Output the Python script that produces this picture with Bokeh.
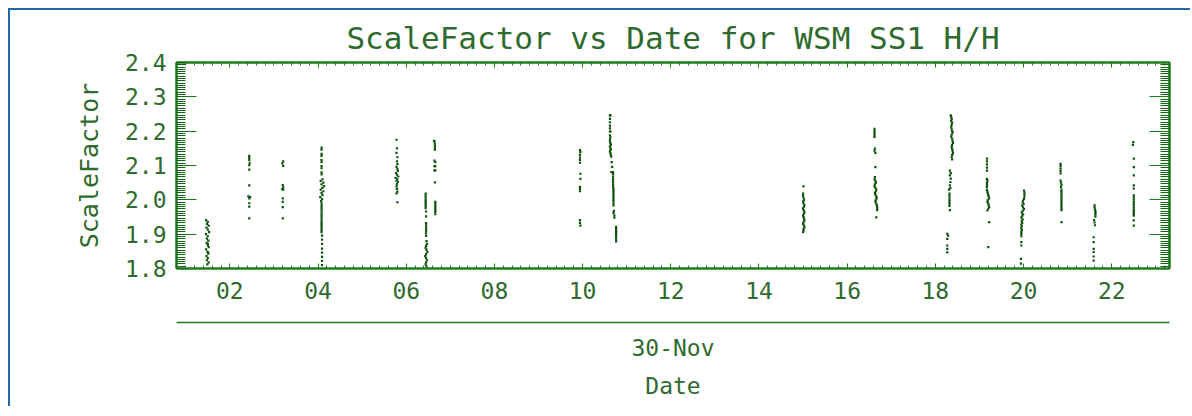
import numpy as np
from bokeh.plotting import figure
from bokeh.models import LinearAxis, FixedTicker, Title, Range1d
from bokeh.embed import file_html
from bokeh.resources import INLINE

# ---------------- data ----------------
title_text = "ScaleFactor vs Date for WSM SS1 H/H"
y_label = "ScaleFactor"
date_label = "30-Nov"
x_label = "Date"

x_ticks = [2, 4, 6, 8, 10, 12, 14, 16, 18, 20, 22]
x_tick_labels = ["02", "04", "06", "08", "10", "12", "14", "16", "18", "20", "22"]
y_ticks = [1.8, 1.9, 2.0, 2.1, 2.2, 2.3, 2.4]
y_tick_labels = ["1.8", "1.9", "2.0", "2.1", "2.2", "2.3", "2.4"]

# hours of day and scale factor, one pair of lists per pass
p01_hours = [1.46, 1.50, 1.48, 1.52, 1.47, 1.50, 1.53, 1.46, 1.50, 1.48, 1.51, 1.47, 1.50, 1.52, 1.46, 1.49, 1.51, 1.47, 1.50, 1.48, 1.52, 1.49, 1.51, 1.50]
p01_scale = [1.941, 1.936, 1.930, 1.925, 1.919, 1.913, 1.906, 1.900, 1.894, 1.887, 1.881, 1.875, 1.868, 1.862, 1.856, 1.849, 1.843, 1.836, 1.830, 1.824, 1.818, 1.812, 1.846, 1.872]

p02_hours = [2.44, 2.44, 2.44, 2.45, 2.44, 2.44, 2.44, 2.42, 2.44, 2.46, 2.44, 2.44, 2.44]
p02_scale = [2.128, 2.122, 2.116, 2.108, 2.101, 2.088, 2.042, 2.010, 2.004, 2.008, 1.990, 1.980, 1.946]

p03_hours = [3.21, 3.19, 3.21, 3.20, 3.21, 3.19, 3.21, 3.20, 3.20, 3.20, 3.20]
p03_scale = [2.112, 2.106, 2.099, 2.043, 2.036, 2.031, 2.030, 2.004, 1.994, 1.979, 1.946]

p04_hours = [4.08, 4.08, 4.08, 4.08, 4.08, 4.08, 4.08, 4.08, 4.08, 4.08,
             4.10, 4.06, 4.12, 4.08, 4.14, 4.10, 4.06, 4.12, 4.08, 4.10, 4.05, 4.09, 4.07, 4.08,
             4.08, 4.08, 4.08, 4.08, 4.08, 4.08, 4.08, 4.08, 4.08, 4.08, 4.08, 4.08, 4.08, 4.08,
             4.09, 4.09, 4.09, 4.09, 4.09, 4.09, 4.09, 4.09]
p04_scale = [2.152, 2.146, 2.134, 2.128, 2.116, 2.110, 2.098, 2.092, 2.080, 2.074,
             2.060, 2.055, 2.050, 2.045, 2.040, 2.035, 2.030, 2.025, 2.020, 2.014, 2.008, 2.002, 1.996, 1.990,
             1.984, 1.978, 1.972, 1.966, 1.960, 1.954, 1.948, 1.942, 1.936, 1.930, 1.924, 1.918, 1.912, 1.906,
             1.896, 1.884, 1.872, 1.858, 1.846, 1.834, 1.822, 1.810]

p05_hours = [5.78, 5.79, 5.78, 5.80, 5.79, 5.80, 5.78, 5.80, 5.81, 5.77, 5.79, 5.82, 5.76, 5.80, 5.78, 5.81, 5.79, 5.78, 5.79, 5.80, 5.78, 5.80]
p05_scale = [2.175, 2.150, 2.137, 2.124, 2.112, 2.104, 2.096, 2.090, 2.084, 2.078, 2.073, 2.068, 2.064, 2.060, 2.056, 2.052, 2.046, 2.039, 2.032, 2.024, 2.019, 1.993]

p06_hours = [6.44, 6.44, 6.44, 6.44, 6.44, 6.44, 6.44, 6.44, 6.45, 6.45, 6.45, 6.45, 6.45, 6.45, 6.45,
             6.45, 6.45, 6.46, 6.47, 6.45, 6.44, 6.46, 6.48, 6.45, 6.43, 6.45, 6.47, 6.45, 6.44, 6.46]
p06_scale = [2.018, 2.012, 2.006, 2.000, 1.994, 1.988, 1.982, 1.976, 1.966, 1.952, 1.932, 1.926, 1.920, 1.914, 1.908,
             1.902, 1.895, 1.880, 1.872, 1.866, 1.860, 1.854, 1.848, 1.842, 1.836, 1.830, 1.824, 1.818, 1.812, 1.806]

p07_hours = [6.63, 6.64, 6.65, 6.65, 6.65, 6.65, 6.64, 6.66, 6.64, 6.66, 6.64, 6.66, 6.65, 6.66, 6.66, 6.66, 6.66, 6.66, 6.66, 6.66]
p07_scale = [2.172, 2.170, 2.164, 2.158, 2.152, 2.146, 2.114, 2.110, 2.098, 2.098, 2.086, 2.086, 2.051, 1.994, 1.988, 1.982, 1.976, 1.970, 1.964, 1.958]

p08_hours = [9.94, 9.95, 9.94, 9.94, 9.94, 9.94, 9.95, 9.95, 9.94, 9.94, 9.94, 9.94, 9.94, 9.95]
p08_scale = [2.145, 2.139, 2.131, 2.123, 2.116, 2.108, 2.076, 2.061, 2.038, 2.032, 2.025, 1.941, 1.933, 1.925]

p09_hours = [10.62, 10.63, 10.62, 10.62, 10.62, 10.62, 10.62, 10.63, 10.62, 10.63, 10.62, 10.62, 10.63, 10.64,
             10.62, 10.63, 10.64, 10.62, 10.63, 10.64, 10.65, 10.66, 10.67, 10.65, 10.67, 10.69, 10.69, 10.69,
             10.69, 10.69, 10.69, 10.69, 10.69, 10.70, 10.70, 10.70, 10.70, 10.70, 10.70, 10.70, 10.70, 10.70,
             10.71, 10.70, 10.72, 10.72, 10.76, 10.76, 10.76, 10.76, 10.76, 10.76, 10.76, 10.76]
p09_scale = [2.246, 2.246, 2.236, 2.226, 2.216, 2.208, 2.199, 2.199, 2.188, 2.182, 2.176, 2.170, 2.165, 2.160,
             2.155, 2.150, 2.146, 2.141, 2.136, 2.131, 2.126, 2.110, 2.096, 2.081, 2.081, 2.081, 2.075, 2.068,
             2.062, 2.056, 2.050, 2.044, 2.038, 2.032, 2.026, 2.020, 2.014, 2.008, 2.002, 1.996, 1.990, 1.984,
             1.968, 1.962, 1.955, 1.948, 1.921, 1.915, 1.909, 1.903, 1.897, 1.891, 1.885, 1.879]

p10_hours = [15.01, 15.00, 15.00, 15.01, 15.02, 15.00, 15.01, 15.03, 15.02, 15.00, 15.01, 15.03, 15.02, 15.00, 15.01, 15.02, 15.03, 15.01, 15.00, 15.02, 15.03, 15.01, 15.01, 15.00]
p10_scale = [2.039, 2.018, 2.012, 2.006, 2.000, 1.995, 1.990, 1.985, 1.980, 1.975, 1.970, 1.965, 1.960, 1.955, 1.950, 1.945, 1.940, 1.935, 1.930, 1.925, 1.920, 1.915, 1.910, 1.906]

p11_hours = [16.62, 16.62, 16.62, 16.62, 16.62, 16.63, 16.62, 16.64, 16.64, 16.63, 16.62, 16.64, 16.65, 16.63, 16.62,
             16.64, 16.66, 16.65, 16.63, 16.64, 16.66, 16.67, 16.65, 16.64, 16.66, 16.67, 16.68, 16.68, 16.68, 16.66]
p11_scale = [2.207, 2.201, 2.195, 2.189, 2.183, 2.149, 2.143, 2.137, 2.095, 2.066, 2.060, 2.055, 2.050, 2.045, 2.040,
             2.035, 2.030, 2.025, 2.020, 2.015, 2.010, 2.005, 2.000, 1.995, 1.990, 1.985, 1.980, 1.975, 1.970, 1.949]

p12_hours = [18.35, 18.36, 18.37, 18.36, 18.38, 18.37, 18.36, 18.37, 18.38, 18.39, 18.37, 18.36, 18.38, 18.39, 18.40,
             18.38, 18.37, 18.38, 18.39, 18.40, 18.38, 18.37, 18.38, 18.33, 18.35, 18.33, 18.35, 18.34, 18.33, 18.34,
             18.31, 18.32, 18.32, 18.32, 18.32, 18.32, 18.32, 18.32, 18.33, 18.27, 18.29, 18.27, 18.27, 18.27, 18.27]
p12_scale = [2.246, 2.241, 2.236, 2.230, 2.225, 2.219, 2.213, 2.207, 2.201, 2.196, 2.190, 2.184, 2.178, 2.172, 2.166,
             2.160, 2.154, 2.148, 2.142, 2.136, 2.130, 2.124, 2.118, 2.085, 2.078, 2.071, 2.062, 2.052, 2.042, 2.034,
             2.030, 2.018, 2.012, 2.006, 2.000, 1.994, 1.988, 1.982, 1.970, 1.901, 1.896, 1.886, 1.867, 1.857, 1.847]

p13_hours = [19.17, 19.17, 19.17, 19.17, 19.17, 19.17, 19.18, 19.17, 19.17, 19.17, 19.17, 19.18, 19.19, 19.20, 19.21,
             19.22, 19.19, 19.18, 19.20, 19.21, 19.22, 19.20, 19.18, 19.22, 19.20]
p13_scale = [2.120, 2.112, 2.103, 2.094, 2.085, 2.061, 2.055, 2.049, 2.043, 2.037, 2.029, 2.024, 2.019, 2.014, 2.009,
             2.004, 1.999, 1.994, 1.989, 1.984, 1.979, 1.974, 1.969, 1.935, 1.862]

p14_hours = [20.01, 20.02, 20.02, 20.02, 20.01, 19.99, 19.98, 20.00, 19.97, 19.99, 20.01, 19.98, 19.96, 19.99, 19.97,
             19.95, 19.98, 19.96, 19.97, 19.95, 19.96, 19.95, 19.96, 19.95, 19.95, 19.95, 19.95, 19.95, 19.94, 19.94]
p14_scale = [2.027, 2.021, 2.015, 2.009, 2.003, 1.998, 1.993, 1.988, 1.983, 1.978, 1.973, 1.968, 1.963, 1.958, 1.953,
             1.948, 1.943, 1.938, 1.933, 1.928, 1.923, 1.918, 1.912, 1.906, 1.900, 1.894, 1.877, 1.867, 1.828, 1.814]

p15_hours = [20.84, 20.84, 20.84, 20.84, 20.84, 20.84, 20.85, 20.86, 20.85, 20.86, 20.86, 20.86, 20.86, 20.86, 20.86,
             20.86, 20.86, 20.86, 20.86, 20.86, 20.86]
p15_scale = [2.105, 2.098, 2.091, 2.084, 2.077, 2.056, 2.050, 2.044, 2.038, 2.030, 2.024, 2.018, 2.012, 2.006, 2.000,
             1.994, 1.988, 1.982, 1.976, 1.970, 1.935]

p16_hours = [21.61, 21.61, 21.62, 21.63, 21.63, 21.63, 21.63, 21.60, 21.61, 21.62, 21.59, 21.59, 21.59, 21.59, 21.59, 21.59]
p16_scale = [1.984, 1.978, 1.972, 1.967, 1.962, 1.957, 1.951, 1.941, 1.934, 1.926, 1.891, 1.877, 1.857, 1.848, 1.835, 1.823]

p17_hours = [22.49, 22.48, 22.50, 22.50, 22.50, 22.50, 22.50, 22.50, 22.50, 22.50, 22.50, 22.50, 22.50, 22.50, 22.50,
             22.50, 22.50, 22.50, 22.50, 22.50]
p17_scale = [2.168, 2.160, 2.120, 2.095, 2.071, 2.042, 2.033, 2.013, 2.007, 2.001, 1.995, 1.989, 1.983, 1.977, 1.971,
             1.965, 1.959, 1.954, 1.940, 1.925]

all_hours = (p01_hours + p02_hours + p03_hours + p04_hours + p05_hours + p06_hours + p07_hours + p08_hours +
             p09_hours + p10_hours + p11_hours + p12_hours + p13_hours + p14_hours + p15_hours + p16_hours + p17_hours)
all_scale = (p01_scale + p02_scale + p03_scale + p04_scale + p05_scale + p06_scale + p07_scale + p08_scale +
             p09_scale + p10_scale + p11_scale + p12_scale + p13_scale + p14_scale + p15_scale + p16_scale + p17_scale)

# ---------------- style ----------------
FONT = "DejaVu Sans Mono"
AXIS = "#1f7a1f"
TEXT = "#2f6a2f"
PTS = "#0d4f0d"
BLUE = "#2468a8"

X0, X1 = 0.79, 23.31
Y0, Y1 = 1.8, 2.4

p = figure(width=1182, height=398, output_backend="svg", toolbar_location=None,
           x_range=Range1d(X0, X1), y_range=Range1d(Y0, Y1),
           min_border_left=166, min_border_right=23, min_border_top=52, min_border_bottom=140)
p.styles = {"margin-top": "8px", "margin-left": "8px",
            "border-top": f"2px solid {BLUE}", "border-left": f"2px solid {BLUE}"}
p.xgrid.visible = False
p.ygrid.visible = False
p.outline_line_color = AXIS
p.outline_line_width = 2
p.background_fill_color = "white"
p.border_fill_color = "white"

x_minor = [round(v, 2) for v in np.arange(0.8, 23.31, 0.2)]
y_minor = [round(Y0 + k * 0.1 / 15, 5) for k in range(0, 91)]

# bottom axis: ticks inward, labels below
xa = p.xaxis[0]
xa.ticker = FixedTicker(ticks=x_ticks, minor_ticks=x_minor)
xa.major_label_overrides = {t: l for t, l in zip(x_ticks, x_tick_labels)}
xa.axis_line_color = AXIS
xa.axis_line_width = 2
xa.major_tick_line_color = AXIS
xa.minor_tick_line_color = AXIS
xa.major_tick_in = 5
xa.major_tick_out = 0
xa.minor_tick_in = 3
xa.minor_tick_out = 0
xa.major_label_text_font = FONT
xa.major_label_text_color = TEXT
xa.major_label_text_font_size = "23px"
xa.major_label_standoff = 13
xa.axis_label = "\u00a0"
xa.axis_label_text_font_size = "10px"
xa.axis_label_standoff = 7

# left axis
ya = p.yaxis[0]
ya.ticker = FixedTicker(ticks=y_ticks, minor_ticks=y_minor)
ya.major_label_overrides = {t: l for t, l in zip(y_ticks, y_tick_labels)}
ya.axis_line_color = AXIS
ya.axis_line_width = 2
ya.major_tick_line_color = AXIS
ya.minor_tick_line_color = "#126312"
ya.major_tick_in = 20
ya.major_tick_out = 0
ya.minor_tick_in = 9
ya.minor_tick_out = 0
ya.major_label_text_font = FONT
ya.major_label_text_color = TEXT
ya.major_label_text_font_size = "23px"
ya.major_label_standoff = 10
ya.axis_label = y_label
ya.axis_label_text_font = FONT
ya.axis_label_text_font_size = "25px"
ya.axis_label_text_font_style = "normal"
ya.axis_label_text_color = TEXT
ya.axis_label_standoff = 18


def tick_only_axis(positions, length, color, line):
    ax = LinearAxis(ticker=FixedTicker(ticks=[], minor_ticks=positions))
    ax.axis_line_color = AXIS if line else None
    ax.axis_line_width = 2
    ax.major_tick_line_color = None
    ax.minor_tick_line_color = color
    ax.minor_tick_in = length
    ax.minor_tick_out = 0
    ax.major_label_standoff = 0
    return ax


# top: minor ticks and longer "major" ticks, no labels
p.add_layout(tick_only_axis(x_minor, 3, AXIS, True), "above")
p.add_layout(tick_only_axis(x_ticks, 5, AXIS, False), "above")
# right: dense comb and long ticks at the labelled values
p.add_layout(tick_only_axis(y_minor, 9, "#126312", True), "right")
p.add_layout(tick_only_axis(y_ticks, 20, AXIS, False), "right")

# second line below the tick labels (date axis line)
date_line = LinearAxis(ticker=FixedTicker(ticks=[]))
date_line.axis_line_color = AXIS
date_line.axis_line_width = 1.5
date_line.major_tick_line_color = None
date_line.minor_tick_line_color = None
date_line.major_label_standoff = 0
p.add_layout(date_line, "below")

t_date = Title(text=date_label, align="center", text_font=FONT, text_font_size="23px",
               text_font_style="normal", text_color=TEXT, standoff=20)
p.add_layout(t_date, "below")
t_x = Title(text=x_label, align="center", text_font=FONT, text_font_size="23px",
            text_font_style="normal", text_color=TEXT, standoff=0)
p.add_layout(t_x, "below")

p.title.text = title_text
p.title.align = "center"
p.title.text_font = FONT
p.title.text_font_size = "31px"
p.title.text_font_style = "normal"
p.title.text_color = TEXT
p.title.standoff = 13

p.scatter(all_hours, all_scale, marker="square", size=2.2, fill_color=PTS, line_color=None)

open("out.html", "w").write(file_html(p, INLINE))
